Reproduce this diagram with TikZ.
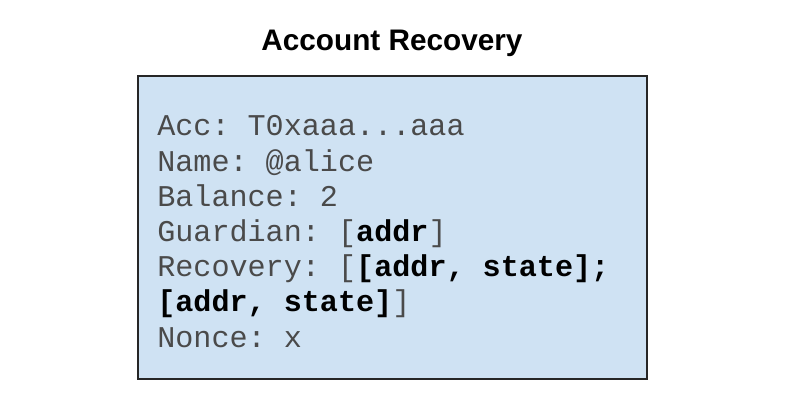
\documentclass[tikz,border=0pt]{standalone}
\usepackage{fontspec}
\setmainfont{Liberation Sans}
\setmonofont{Liberation Mono}
\usepackage{xcolor}
\usetikzlibrary{positioning}
\definecolor{RecBlue}{HTML}{CFE2F3}
\definecolor{RecGray}{HTML}{4A4A4A}
\definecolor{RecEdge}{HTML}{262626}

\begin{document}
\begin{tikzpicture}[
  x=0.75pt, y=-0.75pt,
  heading/.style={font=\fontsize{22.3}{26}\selectfont\bfseries, inner sep=0pt},
  panel/.style={draw=RecEdge, line width=1.1pt, fill=RecBlue},
  fields/.style={font=\fontsize{22.6}{26.4}\selectfont\ttfamily, text=RecGray, align=left, anchor=north west, inner sep=0pt}
]
\useasboundingbox (0,0) rectangle (800,408);
\node[heading] (title) at (392,43) {Account Recovery};
\draw[panel] (138,76) rectangle (647,379);
\node[fields] (acc) at (157,115.5) {Acc: T0xaaa...aaa\\
Name: @alice\\
Balance: 2\\
Guardian: [\textcolor{black}{\bfseries addr}]\\
Recovery: [\textcolor{black}{\bfseries [addr, state];}\\
\textcolor{black}{\bfseries [addr, state]}]\\
Nonce: x};
\end{tikzpicture}
\end{document}
